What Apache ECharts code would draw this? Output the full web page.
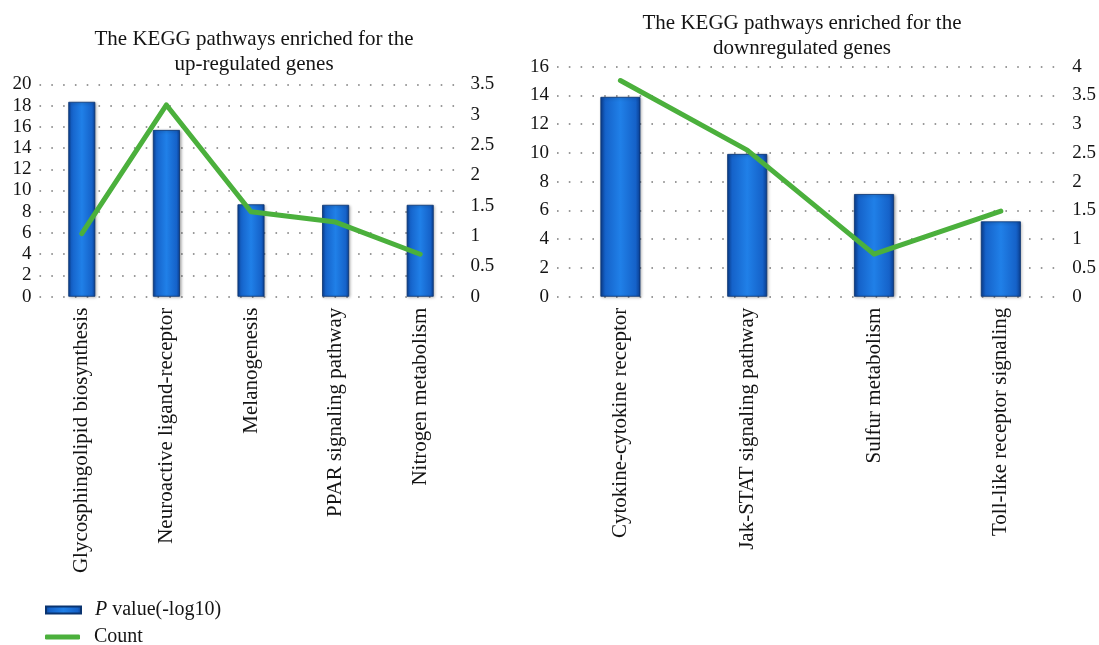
<!DOCTYPE html>
<html>
<head>
<meta charset="utf-8">
<title>KEGG pathways</title>
<script src="https://cdn.jsdelivr.net/npm/echarts@6/dist/echarts.min.js"></script>
<style>
  html, body { margin: 0; padding: 0; background: #ffffff; }
  #chart { width: 1099px; height: 645px; }
</style>
</head>
<body>
<div id="chart"></div>
<script>
// Up-regulated genes panel
const upCategories = [
  'Glycosphingolipid biosynthesis',
  'Neuroactive ligand-receptor',
  'Melanogenesis',
  'PPAR signaling pathway',
  'Nitrogen metabolism'
];
const upPValue = [18.35, 15.7, 8.7, 8.65, 8.65];
const upCount = [1.04, 3.16, 1.40, 1.23, 0.70];

// Down-regulated genes panel
const downCategories = [
  'Cytokine-cytokine receptor',
  'Jak-STAT signaling pathway',
  'Sulfur metabolism',
  'Toll-like receptor signaling'
];
const downPValue = [13.9, 9.93, 7.14, 5.24];
const downCount = [3.76, 2.55, 0.74, 1.49];

const SERIF = '"Liberation Serif", "DejaVu Serif", serif';
const INK = '#141414';
const GREEN = '#4bb03c';

const barFill = new echarts.graphic.LinearGradient(0, 0, 1, 0, [
  { offset: 0, color: '#0b3f92' },
  { offset: 0.12, color: '#1562c9' },
  { offset: 0.5, color: '#2080e8' },
  { offset: 0.88, color: '#1562c9' },
  { offset: 1, color: '#0b3f92' }
]);

const dotted = { color: '#7a7a7a', width: 1.6, type: [1.6, 10.2] };

function valueAxis(gridIndex, max, interval, position, withGrid) {
  return {
    type: 'value',
    gridIndex: gridIndex,
    position: position,
    min: 0,
    max: max,
    interval: interval,
    axisLine: { show: false },
    axisTick: { show: false },
    splitLine: { show: withGrid, lineStyle: dotted },
    axisLabel: { color: INK, fontFamily: SERIF, fontSize: 19, margin: 8 }
  };
}

function categoryAxis(gridIndex, data) {
  return {
    type: 'category',
    gridIndex: gridIndex,
    data: data,
    axisLine: { show: false },
    axisTick: { show: false },
    axisLabel: {
      interval: 0,
      rotate: 90,
      margin: 11,
      color: INK,
      fontFamily: SERIF,
      fontSize: 21
    }
  };
}

const titleStyle = { color: INK, fontFamily: SERIF, fontSize: 21, fontWeight: 'normal', lineHeight: 25 };
const legendText = {
  color: INK,
  fontFamily: SERIF,
  fontSize: 20,
  padding: [0, 0, 0, 9],
  rich: {
    i: { fontStyle: 'italic', fontFamily: SERIF, fontSize: 20, color: INK }
  }
};

const chart = echarts.init(document.getElementById('chart'), null, { renderer: 'canvas' });

chart.setOption({
  backgroundColor: '#ffffff',
  animation: false,
  title: [
    {
      text: 'The KEGG pathways enriched for the\nup-regulated genes',
      left: 249, top: 22, textAlign: 'center',
      textStyle: titleStyle
    },
    {
      text: 'The KEGG pathways enriched for the\ndownregulated genes',
      left: 797, top: 6, textAlign: 'center',
      textStyle: titleStyle
    }
  ],
  legend: [
    {
      left: 40, top: 595,
      itemWidth: 35, itemHeight: 7,
      selectedMode: false,
      data: [{ name: 'P value(-log10)', icon: 'rect' }],
      formatter: function () { return '{i|P} value(-log10)'; },
      textStyle: legendText
    },
    {
      left: 40, top: 622,
      itemWidth: 35, itemHeight: 5,
      selectedMode: false,
      data: [{ name: 'Count', icon: 'roundRect', itemStyle: { color: GREEN } }],
      textStyle: legendText
    }
  ],
  grid: [
    { left: 39.5, right: 636.5, top: 84.3, height: 212.4, containLabel: false },
    { left: 557, right: 29, top: 66.7, height: 230, containLabel: false }
  ],
  xAxis: [
    categoryAxis(0, upCategories),
    categoryAxis(1, downCategories)
  ],
  yAxis: [
    valueAxis(0, 20, 2, 'left', true),
    valueAxis(0, 3.5, 0.5, 'right', false),
    valueAxis(1, 16, 2, 'left', true),
    valueAxis(1, 4, 0.5, 'right', false)
  ],
  series: [
    {
      name: 'P value(-log10)', type: 'bar', xAxisIndex: 0, yAxisIndex: 0,
      data: upPValue, barWidth: 27,
      itemStyle: { color: barFill, borderColor: '#0a3470', borderWidth: 0.8,
        shadowColor: 'rgba(0,0,0,0.35)', shadowBlur: 3, shadowOffsetX: 1, shadowOffsetY: 1 }
    },
    {
      name: 'Count', type: 'line', xAxisIndex: 0, yAxisIndex: 1,
      data: upCount, symbol: 'none', z: 5,
      lineStyle: { color: GREEN, width: 5, cap: 'round', join: 'round' },
      itemStyle: { color: GREEN }
    },
    {
      name: 'P value(-log10)', type: 'bar', xAxisIndex: 1, yAxisIndex: 2,
      data: downPValue, barWidth: 40,
      itemStyle: { color: barFill, borderColor: '#0a3470', borderWidth: 0.8,
        shadowColor: 'rgba(0,0,0,0.35)', shadowBlur: 3, shadowOffsetX: 1, shadowOffsetY: 1 }
    },
    {
      name: 'Count', type: 'line', xAxisIndex: 1, yAxisIndex: 3,
      data: downCount, symbol: 'none', z: 5,
      lineStyle: { color: GREEN, width: 5, cap: 'round', join: 'round' },
      itemStyle: { color: GREEN }
    }
  ]
});
</script>
</body>
</html>
